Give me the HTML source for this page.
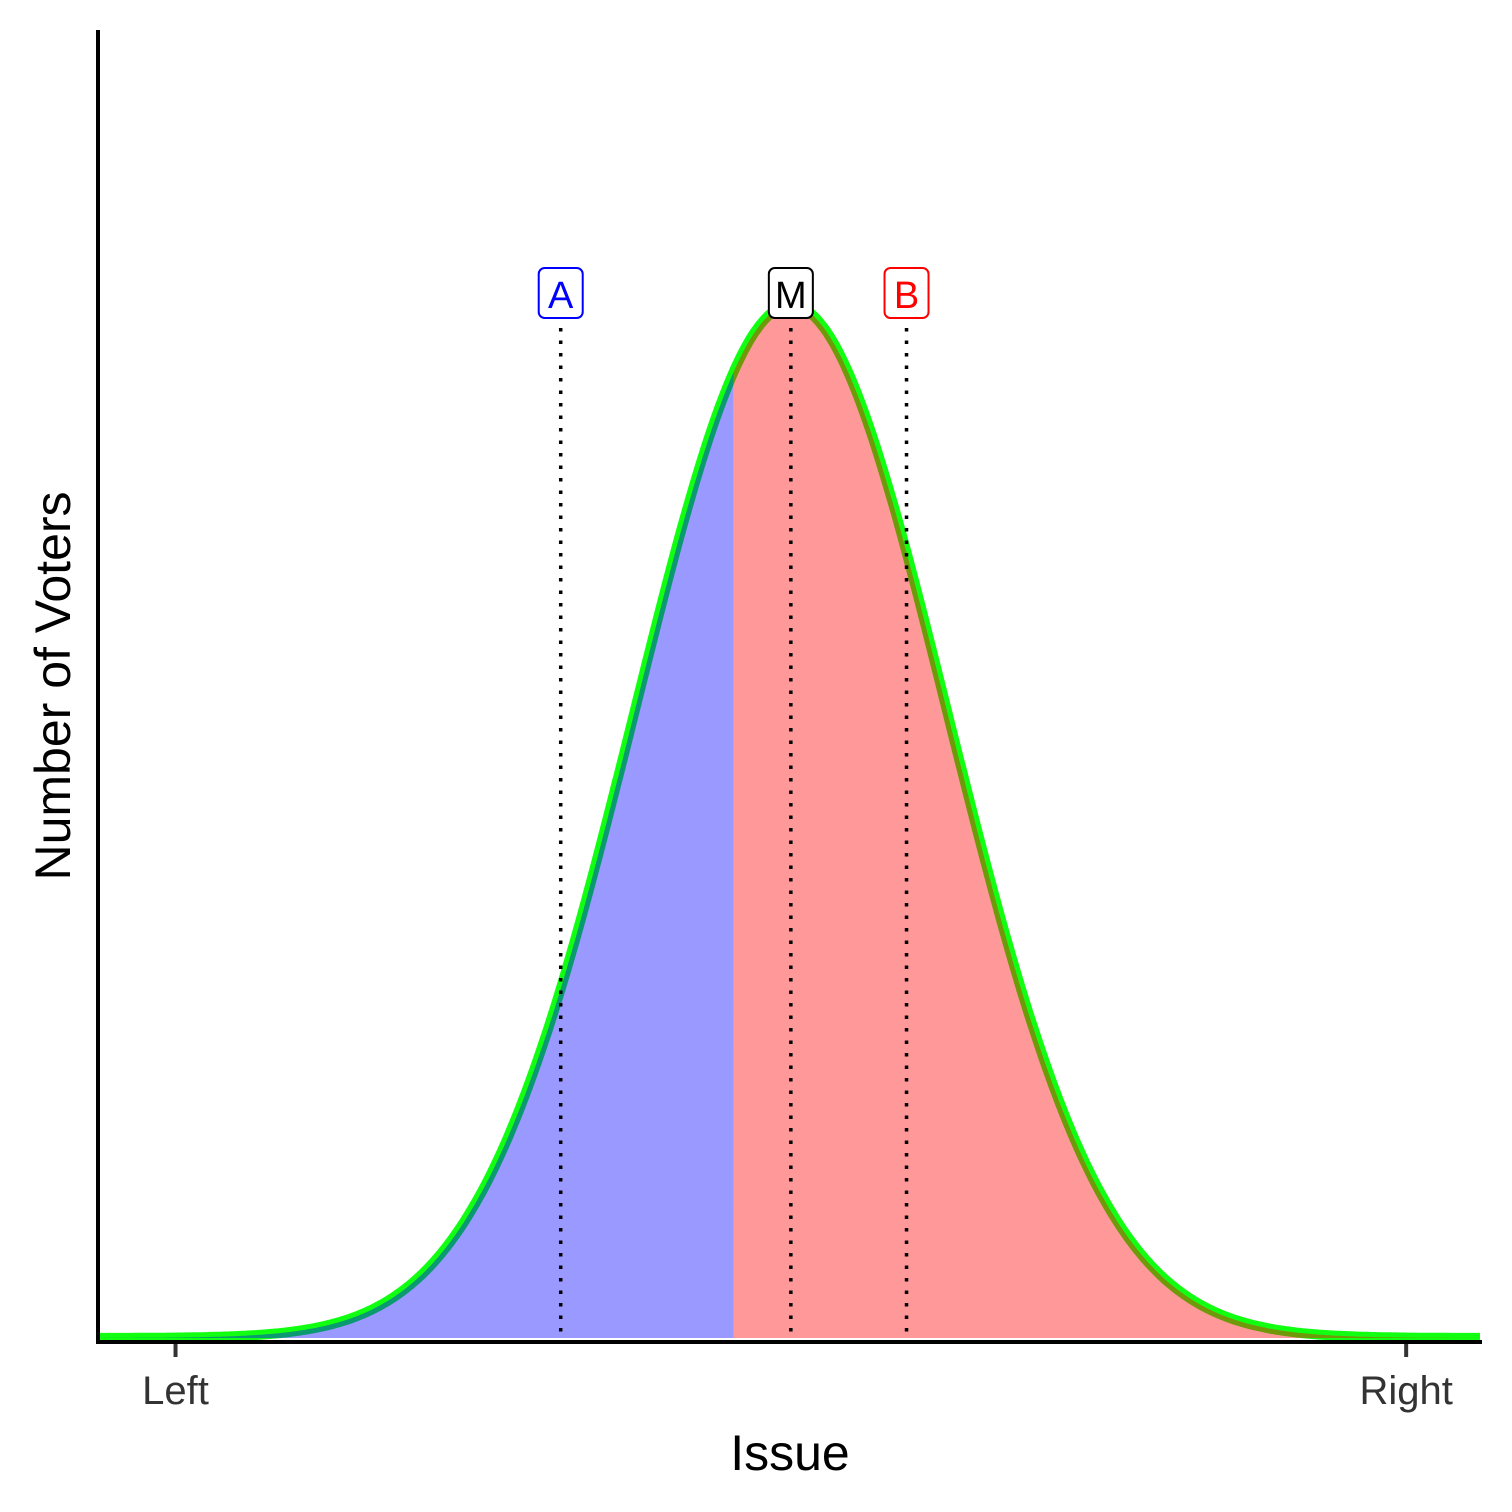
<!DOCTYPE html>
<html><head><meta charset="utf-8"><style>
body{margin:0;background:#fff}
svg{display:block}
text{font-family:"Liberation Sans",sans-serif}
</style></head><body>
<svg id="chart" width="1512" height="1512" viewBox="0 0 1512 1512">
<g id="plot"></g>
<line x1="98" y1="30" x2="98" y2="1344" stroke="#000" stroke-width="4"/>
<line x1="96" y1="1342" x2="1482" y2="1342" stroke="#000" stroke-width="4"/>
<g id="ticks"></g>
<text x="790" y="1470" font-size="50" text-anchor="middle">Issue</text>
<text transform="translate(70,686) rotate(-90)" font-size="50" text-anchor="middle">Number of Voters</text>
</svg>
<script>
const tickLabels=["Left","Right"];
const tickValues=[0,10];
const mean=[5];
const sd=[1.27];
const markerNames=["A","M","B"];
const markerValues=[3.13,5,5.94];
const markerColors=["#0000ff","#000000","#ff0000"];
const xMin=-0.63,xMax=10.6;
const X=v=>98+(v-xMin)/(xMax-xMin)*(1480-98);
const yBase=1338,yTop=305;
const dens=v=>Math.exp(-0.5*Math.pow((v-mean[0])/sd[0],2));
const Y=d=>yBase-d*(yBase-yTop);
const NS="http://www.w3.org/2000/svg";
const plot=document.getElementById('plot');
function mk(tag,attrs,parent){const e=document.createElementNS(NS,tag);for(const k in attrs)e.setAttribute(k,attrs[k]);parent.appendChild(e);return e;}
const split=(markerValues[0]+markerValues[2])/2;
let pts=[];
for(let i=0;i<=600;i++){const v=xMin+(xMax-xMin)*i/600;pts.push([v,dens(v)]);}
const line=mk('path',{d:'M'+pts.map(p=>X(p[0]).toFixed(1)+','+Y(p[1]).toFixed(1)).join('L'),fill:'none',stroke:'#11ff11','stroke-width':10,'stroke-linejoin':'round'},plot);


function area(a,b,col,name){
  let s='M'+X(a)+','+yBase;
  for(const p of pts){if(p[0]>=a&&p[0]<=b)s+='L'+X(p[0]).toFixed(1)+','+Y(p[1]).toFixed(1);}
  s+='L'+X(b)+','+Y(dens(b))+'L'+X(b)+','+yBase+'Z';
  const e=mk('path',{d:s,fill:col,'fill-opacity':0.4},plot);
  
  
}
area(xMin,split,'#0000ff','candidate-a-area');
area(split,xMax,'#ff0000','candidate-b-area');
markerNames.forEach((n,i)=>{
  const x=X(markerValues[i]);
  const l=mk('line',{x1:x,y1:328,x2:x,y2:1334,stroke:'#000','stroke-width':3.5,'stroke-dasharray':'3.5 9'},plot);
  
  
  const g=mk('g',{},plot);
  
  
  mk('rect',{x:x-22,y:268,width:44,height:50,rx:6,fill:'#fff',stroke:markerColors[i],'stroke-width':2},g);
  const t=mk('text',{x:x,y:308,'font-size':38,'text-anchor':'middle',fill:markerColors[i]},g);
  t.textContent=n;
});
const tg=document.getElementById('ticks');
tickValues.forEach((v,i)=>{
  const x=X(v);
  const l=mk('line',{x1:x,y1:1344,x2:x,y2:1357,stroke:'#333','stroke-width':4},tg);
  
  
  const t=mk('text',{x:x,y:1404,'font-size':40,'text-anchor':'middle',fill:'#333'},tg);
  
  
  t.textContent=tickLabels[i];
});
</script>
</body></html>
